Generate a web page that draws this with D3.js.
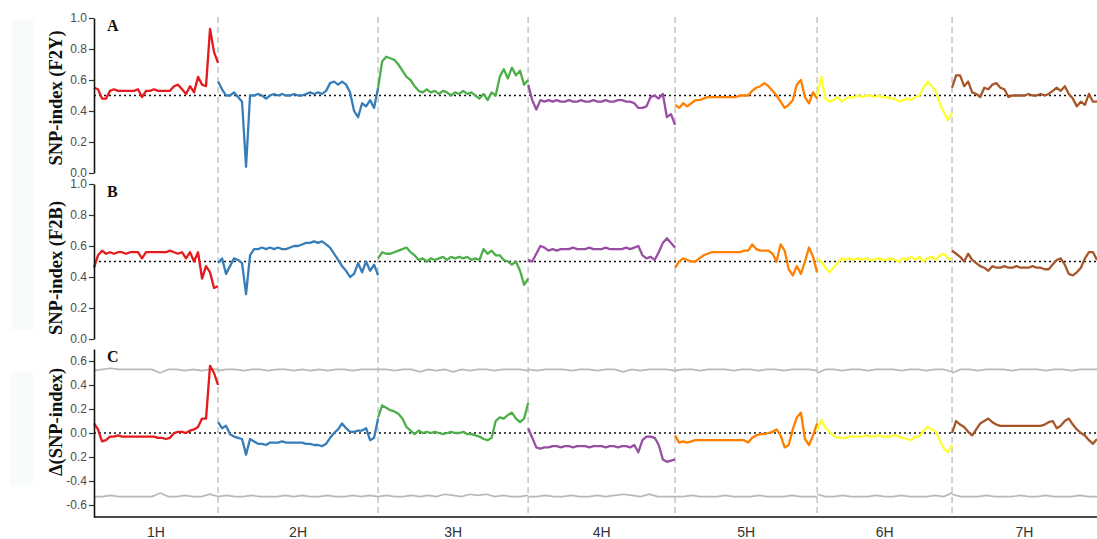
<!DOCTYPE html>
<html lang="en">
<head>
<meta charset="UTF-8">
<title>SNP-index</title>
<script src="https://d3js.org/d3.v7.min.js"></script>
<style>
  body { margin: 0; background: #fff; }
  svg { display: block; }
</style>
</head>
<body>
<svg id="chart" width="1097" height="539"></svg>
<script>
// chromosome names and lengths (Mb)
const chromosomes = ["1H", "2H", "3H", "4H", "5H", "6H", "7H"];
const chromLengths = [558, 720, 675, 661, 639, 607, 652];
const chromColors = ["#e41a1c", "#377eb8", "#4daf4a", "#984ea3", "#ff7f00", "#ffff33", "#a65628"];

// SNP-index F2Y, values evenly spread along each chromosome
const f2yIndex = [
  [0.55,0.54,0.48,0.48,0.53,0.54,0.53,0.53,0.53,0.53,0.53,0.54,0.49,0.53,0.53,0.54,0.53,0.53,0.53,0.53,0.56,0.57,0.54,0.51,0.56,0.52,0.62,0.57,0.56,0.93,0.78,0.71],
  [0.59,0.54,0.50,0.50,0.52,0.49,0.46,0.04,0.50,0.50,0.51,0.50,0.48,0.50,0.51,0.50,0.51,0.50,0.50,0.51,0.50,0.50,0.51,0.52,0.51,0.52,0.51,0.53,0.58,0.59,0.57,0.59,0.57,0.52,0.40,0.36,0.45,0.43,0.47,0.42,0.55],
  [0.55,0.72,0.75,0.74,0.73,0.70,0.66,0.62,0.60,0.56,0.53,0.52,0.54,0.52,0.53,0.51,0.53,0.52,0.50,0.52,0.51,0.53,0.51,0.52,0.50,0.48,0.51,0.47,0.52,0.50,0.62,0.67,0.61,0.68,0.63,0.66,0.57,0.60],
  [0.57,0.47,0.41,0.47,0.46,0.47,0.46,0.47,0.46,0.46,0.47,0.46,0.46,0.47,0.46,0.46,0.47,0.46,0.46,0.47,0.46,0.46,0.47,0.47,0.46,0.46,0.45,0.42,0.42,0.43,0.49,0.50,0.48,0.51,0.36,0.38,0.31],
  [0.44,0.42,0.45,0.43,0.45,0.47,0.47,0.48,0.49,0.49,0.49,0.49,0.49,0.49,0.49,0.49,0.50,0.50,0.50,0.53,0.55,0.56,0.58,0.56,0.53,0.50,0.46,0.42,0.44,0.47,0.57,0.60,0.49,0.45,0.52,0.48],
  [0.50,0.62,0.48,0.46,0.47,0.49,0.46,0.48,0.49,0.49,0.50,0.49,0.50,0.50,0.49,0.50,0.49,0.49,0.48,0.48,0.46,0.47,0.48,0.47,0.49,0.50,0.55,0.59,0.56,0.53,0.45,0.39,0.34,0.39],
  [0.55,0.63,0.63,0.56,0.59,0.52,0.51,0.49,0.55,0.54,0.57,0.58,0.55,0.54,0.49,0.50,0.50,0.50,0.50,0.51,0.50,0.50,0.51,0.50,0.51,0.53,0.55,0.53,0.56,0.51,0.48,0.43,0.46,0.44,0.51,0.46,0.46]
];

// SNP-index F2B
const f2bIndex = [
  [0.46,0.54,0.57,0.55,0.56,0.55,0.56,0.56,0.55,0.56,0.56,0.56,0.52,0.56,0.56,0.56,0.56,0.56,0.56,0.57,0.56,0.55,0.56,0.52,0.56,0.50,0.56,0.39,0.47,0.43,0.33,0.34],
  [0.49,0.52,0.42,0.47,0.52,0.51,0.49,0.29,0.54,0.58,0.58,0.59,0.58,0.59,0.58,0.59,0.58,0.58,0.59,0.60,0.60,0.61,0.62,0.62,0.63,0.62,0.63,0.61,0.59,0.55,0.51,0.47,0.44,0.40,0.42,0.49,0.43,0.50,0.44,0.48,0.41],
  [0.52,0.56,0.55,0.55,0.56,0.57,0.58,0.59,0.56,0.54,0.51,0.52,0.50,0.52,0.51,0.52,0.53,0.51,0.53,0.52,0.53,0.52,0.53,0.51,0.52,0.51,0.58,0.55,0.57,0.54,0.54,0.51,0.50,0.48,0.50,0.44,0.35,0.39],
  [0.51,0.50,0.55,0.60,0.59,0.57,0.58,0.57,0.58,0.58,0.58,0.59,0.58,0.58,0.58,0.59,0.58,0.58,0.58,0.59,0.58,0.58,0.58,0.58,0.59,0.58,0.59,0.60,0.54,0.52,0.53,0.51,0.56,0.62,0.65,0.62,0.59],
  [0.46,0.50,0.52,0.51,0.50,0.50,0.52,0.54,0.55,0.56,0.56,0.56,0.56,0.56,0.56,0.56,0.56,0.57,0.57,0.61,0.58,0.57,0.57,0.57,0.55,0.50,0.61,0.57,0.45,0.41,0.47,0.42,0.50,0.59,0.53,0.43],
  [0.52,0.50,0.46,0.43,0.46,0.49,0.52,0.51,0.52,0.51,0.52,0.51,0.52,0.51,0.51,0.52,0.51,0.51,0.52,0.51,0.50,0.52,0.51,0.53,0.51,0.53,0.50,0.52,0.53,0.51,0.54,0.55,0.52,0.51],
  [0.57,0.55,0.53,0.50,0.55,0.51,0.49,0.47,0.46,0.44,0.47,0.46,0.46,0.47,0.46,0.46,0.47,0.46,0.46,0.46,0.47,0.46,0.46,0.45,0.45,0.48,0.51,0.52,0.48,0.42,0.41,0.43,0.46,0.52,0.56,0.56,0.51]
];

// delta(SNP-index) = F2Y - F2B
const deltaIndex = [
  [0.08,0.03,-0.07,-0.06,-0.03,-0.03,-0.02,-0.03,-0.03,-0.03,-0.03,-0.03,-0.03,-0.03,-0.03,-0.03,-0.04,-0.04,-0.05,-0.04,0.00,0.01,0.01,0.00,0.02,0.03,0.05,0.12,0.12,0.56,0.50,0.40],
  [0.09,0.04,0.06,-0.01,-0.03,-0.04,-0.05,-0.18,-0.05,-0.07,-0.09,-0.09,-0.10,-0.08,-0.08,-0.08,-0.07,-0.08,-0.08,-0.08,-0.08,-0.08,-0.09,-0.09,-0.10,-0.10,-0.11,-0.09,-0.04,0.00,0.03,0.08,0.04,0.01,0.01,0.02,0.02,0.04,-0.06,-0.04,0.12],
  [0.13,0.23,0.21,0.19,0.18,0.16,0.12,0.05,0.02,-0.01,0.02,0.00,0.01,0.00,0.01,0.00,-0.01,0.00,0.01,0.00,0.00,0.01,-0.01,-0.01,-0.02,-0.03,-0.05,-0.06,-0.04,0.10,0.13,0.12,0.15,0.17,0.12,0.09,0.12,0.25],
  [0.04,-0.04,-0.12,-0.13,-0.12,-0.12,-0.11,-0.11,-0.12,-0.11,-0.11,-0.12,-0.11,-0.11,-0.11,-0.12,-0.11,-0.11,-0.11,-0.12,-0.11,-0.11,-0.12,-0.11,-0.11,-0.12,-0.10,-0.16,-0.06,-0.03,-0.03,-0.04,-0.10,-0.22,-0.24,-0.23,-0.22],
  [-0.02,-0.08,-0.07,-0.08,-0.07,-0.06,-0.06,-0.06,-0.06,-0.06,-0.06,-0.06,-0.06,-0.06,-0.06,-0.06,-0.06,-0.06,-0.08,-0.04,-0.02,-0.01,-0.01,0.00,0.01,0.03,-0.02,-0.12,-0.10,0.03,0.13,0.17,-0.05,-0.10,-0.02,0.08],
  [0.02,0.11,0.05,0.01,-0.02,-0.04,-0.04,-0.04,-0.03,-0.03,-0.03,-0.03,-0.02,-0.03,-0.03,-0.02,-0.03,-0.03,-0.03,-0.02,-0.03,-0.04,-0.05,-0.06,-0.03,-0.03,0.02,0.05,0.03,0.01,-0.06,-0.13,-0.16,-0.10],
  [0.00,0.10,0.07,0.05,0.01,-0.02,0.03,0.08,0.10,0.12,0.09,0.07,0.06,0.06,0.06,0.06,0.06,0.06,0.06,0.06,0.06,0.06,0.06,0.07,0.09,0.10,0.04,0.06,0.10,0.12,0.07,0.03,0.00,-0.02,-0.06,-0.09,-0.05]
];

// confidence thresholds for delta(SNP-index)
const deltaUpper = [
  [0.52,0.53,0.54,0.53,0.53,0.53,0.53,0.53,0.50,0.53,0.53,0.52,0.53,0.52,0.53,0.53],
  [0.52,0.53,0.53,0.52,0.53,0.53,0.52,0.53,0.53,0.52,0.53,0.52,0.53,0.52,0.53,0.53,0.52,0.53,0.53,0.53],
  [0.53,0.53,0.52,0.53,0.53,0.51,0.53,0.52,0.53,0.51,0.53,0.52,0.53,0.53,0.52,0.53,0.53,0.53,0.52],
  [0.53,0.52,0.53,0.53,0.53,0.52,0.53,0.53,0.52,0.53,0.53,0.51,0.53,0.52,0.53,0.53,0.53,0.52],
  [0.52,0.53,0.53,0.52,0.53,0.53,0.53,0.52,0.53,0.53,0.52,0.53,0.53,0.52,0.53,0.53,0.53,0.52],
  [0.50,0.53,0.53,0.52,0.53,0.53,0.52,0.53,0.53,0.53,0.52,0.53,0.53,0.52,0.53,0.53,0.51],
  [0.50,0.53,0.53,0.52,0.53,0.53,0.53,0.52,0.53,0.53,0.53,0.52,0.53,0.53,0.52,0.53,0.53,0.53]
];
const deltaLower = [
  [-0.53,-0.53,-0.52,-0.53,-0.53,-0.53,-0.53,-0.53,-0.50,-0.53,-0.53,-0.52,-0.53,-0.53,-0.51,-0.53],
  [-0.53,-0.52,-0.53,-0.53,-0.52,-0.53,-0.53,-0.53,-0.52,-0.53,-0.52,-0.53,-0.53,-0.52,-0.53,-0.53,-0.52,-0.53,-0.52,-0.53],
  [-0.53,-0.52,-0.53,-0.53,-0.52,-0.53,-0.52,-0.53,-0.51,-0.52,-0.53,-0.51,-0.52,-0.51,-0.53,-0.52,-0.53,-0.53,-0.52],
  [-0.53,-0.53,-0.52,-0.53,-0.53,-0.52,-0.53,-0.53,-0.52,-0.53,-0.52,-0.51,-0.52,-0.53,-0.51,-0.53,-0.53,-0.53],
  [-0.53,-0.53,-0.52,-0.53,-0.53,-0.53,-0.52,-0.53,-0.53,-0.53,-0.52,-0.53,-0.53,-0.53,-0.52,-0.53,-0.53,-0.53],
  [-0.51,-0.53,-0.53,-0.52,-0.53,-0.53,-0.53,-0.52,-0.53,-0.53,-0.52,-0.53,-0.53,-0.53,-0.52,-0.53,-0.50],
  [-0.51,-0.53,-0.53,-0.53,-0.52,-0.53,-0.53,-0.53,-0.52,-0.53,-0.53,-0.52,-0.53,-0.53,-0.53,-0.52,-0.53,-0.53]
];

// axis ticks
const indexTicks = [0, 0.2, 0.4, 0.6, 0.8, 1.0];
const indexTickLabels = ["0.0", "0.2", "0.4", "0.6", "0.8", "1.0"];
const deltaTicks = [-0.6, -0.4, -0.2, 0, 0.2, 0.4, 0.6];
const deltaTickLabels = ["-0.6", "-0.4", "0.2", "0.0", "0.2", "0.4", "0.6"];

const svg = d3.select("#chart");
const left = 94, right = 1097, bottom = 517;

const offsets = [0];
chromLengths.forEach((l, i) => offsets.push(offsets[i] + l));
const total = offsets[offsets.length - 1];
const x = d3.scaleLinear().domain([0, total]).range([left, right]);

// faint bands on the left edge
svg.append("rect").attr("x", 12).attr("y", 20).attr("width", 22).attr("height", 310).attr("fill", "#f7fbfa");
svg.append("rect").attr("x", 10).attr("y", 372).attr("width", 23).attr("height", 113).attr("fill", "#f7fbfa");

// chromosome boundaries
svg.append("g").selectAll("line")
  .data(offsets.slice(1, -1))
  .join("line")
  .attr("x1", d => x(d)).attr("x2", d => x(d))
  .attr("y1", 17).attr("y2", bottom)
  .attr("stroke", "#c4c4c4")
  .attr("stroke-width", 1.5)
  .attr("stroke-dasharray", "6,4");

function spread(values, c) {
  const n = values.length;
  return values.map((v, i) => ({ pos: offsets[c] + chromLengths[c] * i / (n - 1), v }));
}

const panels = [
  { letter: "A", title: "SNP-index (F2Y)", data: f2yIndex, domain: [0, 1], range: [173, 18],
    ticks: indexTicks, labels: indexTickLabels, ref: 0.5, titleY: 98, letterY: 31 },
  { letter: "B", title: "SNP-index (F2B)", data: f2bIndex, domain: [0, 1], range: [339, 184],
    ticks: indexTicks, labels: indexTickLabels, ref: 0.5, titleY: 268, letterY: 197 },
  { letter: "C", title: "\u0394(SNP-index)", data: deltaIndex, domain: [-0.7, 0.7], range: [517, 349],
    ticks: deltaTicks, labels: deltaTickLabels, ref: 0, titleY: 422, letterY: 362,
    upper: deltaUpper, lower: deltaLower }
];

panels.forEach(p => {
  const y = d3.scaleLinear().domain(p.domain).range(p.range);
  const g = svg.append("g");
  const line = d3.line().x(d => x(d.pos)).y(d => y(d.v));

  // thresholds
  if (p.upper) {
    [p.upper, p.lower].forEach(th => {
      g.append("g").selectAll("path")
        .data(th.map((vals, c) => spread(vals, c)))
        .join("path")
        .attr("d", line)
        .attr("fill", "none")
        .attr("stroke", "#b8b8b8")
        .attr("stroke-width", 1.6);
    });
  }

  // reference line
  g.append("line")
    .attr("x1", left).attr("x2", right)
    .attr("y1", y(p.ref)).attr("y2", y(p.ref))
    .attr("stroke", "#111")
    .attr("stroke-width", 1.6)
    .attr("stroke-dasharray", "2,3");

  // data
  g.append("g").selectAll("path")
    .data(p.data.map((vals, c) => spread(vals, c)))
    .join("path")
    .attr("d", line)
    .attr("fill", "none")
    .attr("stroke", (d, i) => chromColors[i])
    .attr("stroke-width", 2.3)
    .attr("stroke-linejoin", "round");

  // y axis
  const axis = g.append("g")
    .attr("transform", `translate(${left},0)`)
    .call(d3.axisLeft(y).tickValues(p.ticks).tickFormat((d, i) => p.labels[i])
      .tickSize(5).tickPadding(2).tickSizeOuter(0));
  axis.select(".domain").attr("stroke", "#111").attr("stroke-width", 1.6);
  axis.selectAll(".tick line").attr("stroke", "#333").attr("stroke-width", 1.2);
  axis.selectAll(".tick text")
    .attr("fill", "#4d4d4d")
    .style("font-family", "Liberation Sans, Arial, sans-serif")
    .style("font-size", "12px");

  // axis title
  svg.append("text")
    .attr("transform", `translate(62,${p.titleY}) rotate(-90)`)
    .attr("text-anchor", "middle")
    .style("font-family", "Liberation Serif, Times New Roman, serif")
    .style("font-weight", "bold")
    .style("font-size", "18.5px")
    .attr("fill", "#111")
    .text(p.title);

  // panel letter
  svg.append("text")
    .attr("x", 107).attr("y", p.letterY)
    .style("font-family", "Liberation Serif, Times New Roman, serif")
    .style("font-weight", "bold")
    .style("font-size", "16px")
    .attr("fill", "#111")
    .text(p.letter);
});

// bottom axis line and chromosome labels
svg.append("line")
  .attr("x1", left).attr("x2", right)
  .attr("y1", bottom).attr("y2", bottom)
  .attr("stroke", "#111").attr("stroke-width", 1.6);

svg.append("g").selectAll("text")
  .data(chromosomes)
  .join("text")
  .attr("x", (d, i) => x(offsets[i] + chromLengths[i] / 2))
  .attr("y", 537)
  .attr("text-anchor", "middle")
  .style("font-family", "Liberation Sans, Arial, sans-serif")
  .style("font-size", "14px")
  .attr("fill", "#333")
  .text(d => d);
</script>
</body>
</html>
